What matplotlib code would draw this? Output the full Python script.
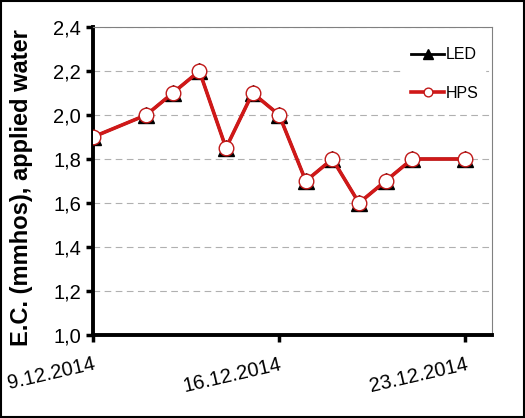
import matplotlib.pyplot as plt
import matplotlib.dates as mdates
from matplotlib.patches import Rectangle
from matplotlib.ticker import FuncFormatter
import pandas as pd

plt.rcParams['font.family'] = ['Liberation Sans', 'DejaVu Sans']

dates = ['2014-12-09', '2014-12-11', '2014-12-12', '2014-12-13', '2014-12-14',
         '2014-12-15', '2014-12-16', '2014-12-17', '2014-12-18', '2014-12-19',
         '2014-12-20', '2014-12-21', '2014-12-23']
led = [1.9, 2.0, 2.1, 2.2, 1.85, 2.1, 2.0, 1.7, 1.8, 1.6, 1.7, 1.8, 1.8]
hps = [1.9, 2.0, 2.1, 2.2, 1.85, 2.1, 2.0, 1.7, 1.8, 1.6, 1.7, 1.8, 1.8]
x_ticks = ['2014-12-09', '2014-12-16', '2014-12-23']

x = pd.to_datetime(dates)

fig = plt.figure(figsize=(5.25, 4.18), dpi=100)
ax = fig.add_axes([93 / 525, 1 - 335 / 418, (492 - 93) / 525, (335 - 27) / 418])

# LED under, HPS on top
ax.plot(x, led, color='black', lw=2, marker='^', ms=11, mfc='black', mec='black',
        label='LED', zorder=3)
ax.plot(x, hps, color='#d01818', lw=2.6, marker='o', ms=10.5, mfc='white',
        mec='#c01818', mew=1.0, label='HPS', zorder=4)

ax.set_xlim(pd.Timestamp('2014-12-09'), pd.Timestamp('2014-12-24'))
ax.set_ylim(1.0, 2.4)
ax.set_yticks([1.0, 1.2, 1.4, 1.6, 1.8, 2.0, 2.2, 2.4])
ax.yaxis.set_major_formatter(FuncFormatter(lambda v, p: f'{v:.1f}'.replace('.', ',')))
ax.set_xticks(pd.to_datetime(x_ticks))
ax.xaxis.set_major_formatter(mdates.DateFormatter('%-d.%m.%Y'))
for lab in ax.get_xticklabels():
    lab.set_rotation(13)
    lab.set_ha('right')
    lab.set_rotation_mode('anchor')

ax.grid(axis='y', color='#b0b0b0', ls=(0, (6, 4)), lw=0.8)
ax.set_axisbelow(True)

for s in ['left', 'bottom']:
    ax.spines[s].set_linewidth(2.8)
    ax.spines[s].set_color('black')
for s in ['top', 'right']:
    ax.spines[s].set_linewidth(0.8)
    ax.spines[s].set_color('#808080')

ax.tick_params(axis='both', labelsize=14.5, width=2.5, length=5, direction='out')
ax.tick_params(axis='x', pad=9)

ax.set_ylabel('E.C. (mmhos), applied water', fontsize=17, fontweight='bold')
ax.yaxis.set_label_coords(-60 / 399, 0.5 - 7 / 308)

leg = ax.legend(loc='upper right', bbox_to_anchor=(0.995, 0.97), frameon=True,
                fontsize=11.5, handlelength=2.1, labelspacing=1.45, borderaxespad=0.3,
                handletextpad=0.1, markerscale=0.6)
leg.get_frame().set_edgecolor('white')
leg.get_frame().set_facecolor('white')
leg.get_frame().set_alpha(1)

fig.patches.append(Rectangle((0.002, 0.002), 0.996, 0.996, transform=fig.transFigure,
                             fill=False, edgecolor='black', lw=1.5))

fig.savefig('out.png', dpi=100)
